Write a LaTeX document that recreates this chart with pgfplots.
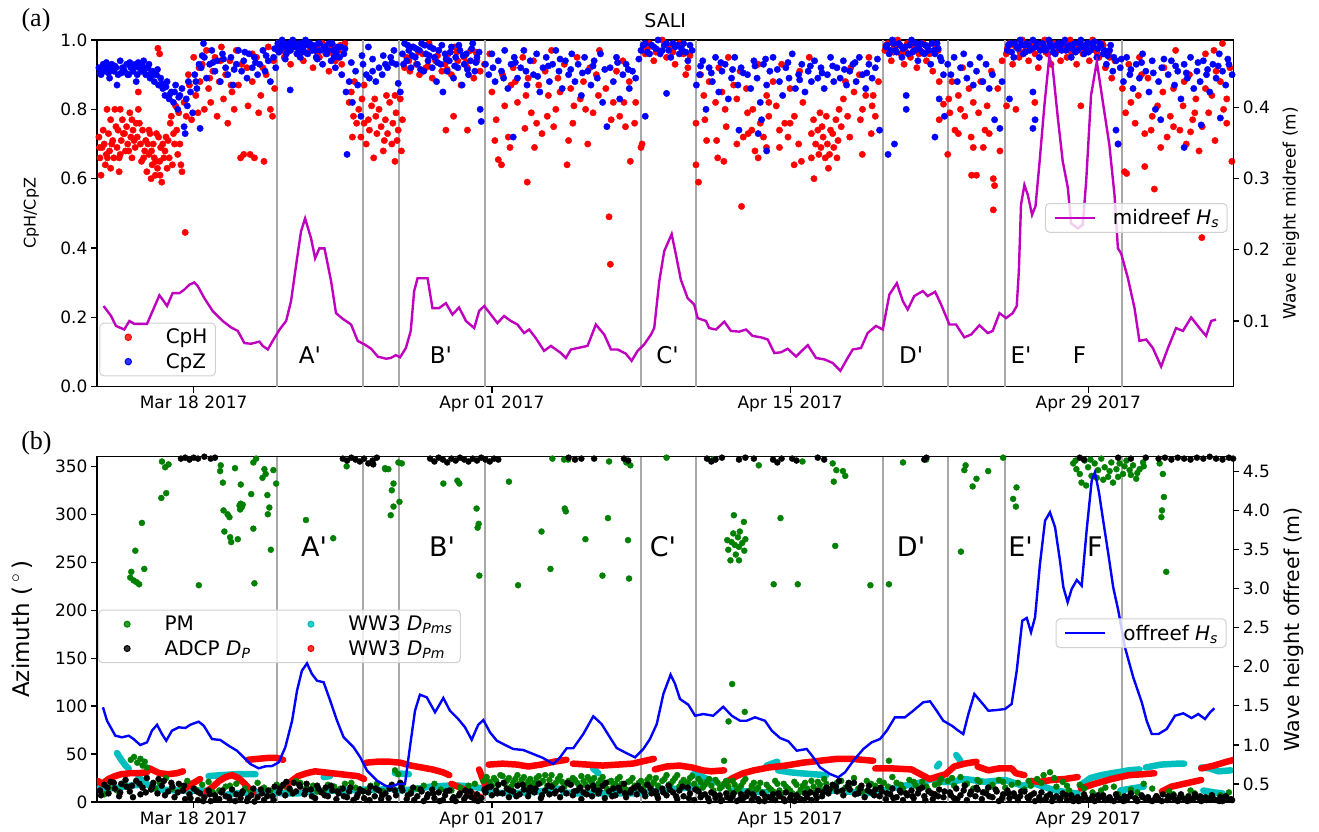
\documentclass[border=0pt]{standalone}
\usepackage{pgfplots}
\pgfplotsset{compat=1.18}
\usepackage{fontspec}
\setmainfont{DejaVu Sans}[Ligatures=TeXOff]
\newfontfamily\panelfont{Liberation Serif}
\definecolor{mplm}{RGB}{191,0,191}
\definecolor{mplg}{RGB}{0,128,0}
\definecolor{mplc}{RGB}{0,191,191}
\definecolor{vgray}{RGB}{168,168,168}
\pgfplotsset{
  base/.style={
    scale only axis, width=1136.3pt,
    xmin=-4.54, xmax=48.81,
    tick label style={font=\fontsize{17}{20}\selectfont},
    /pgf/number format/assume math mode=true,
    tick align=outside,
    major tick length=6pt,
    tick style={black,line width=1.2pt},
    axis line style={line width=1.2pt},
    legend cell align=left,
    legend image code/.code={\path (0pt,0pt) (40pt,0pt); \draw[mark repeat=2,mark phase=2,##1] plot coordinates {(0pt,0pt) (20pt,0pt) (40pt,0pt)};},
    legend style={draw=black!18, line width=1pt, rounded corners=4pt, fill=white, fill opacity=0.8, text opacity=1, draw opacity=1,
      font=\fontsize{20}{24}\selectfont, inner xsep=8pt, inner ysep=5pt, row sep=6pt,
      nodes={inner xsep=0pt, inner ysep=1pt},
      /tikz/every odd column/.append style={column sep=17pt},
      /tikz/every even column/.append style={column sep=40pt}},
  },
  dots/.style={only marks, mark=*, mark size=3.2pt},
}
\begin{document}
\begin{tikzpicture}
\path[use as bounding box] (0pt,0pt) rectangle (1319pt,-832pt);
\node[font=\panelfont\fontsize{26}{30}\selectfont] at (36pt,-20pt) {(a)};
\node[font=\panelfont\fontsize{26}{30}\selectfont] at (36.5pt,-443pt) {(b)};

% ---------------- TOP PANEL ----------------
\begin{axis}[base, at={(97pt,-386.7pt)}, anchor=south west, height=346.7pt,
  ymin=0, ymax=1, tick pos=left,
  xtick={0,14,28,42}, xticklabels={Mar 18 2017,Apr 01 2017,Apr 15 2017,Apr 29 2017},
  ytick={0,0.2,0.4,0.6,0.8,1.0},
  yticklabel style={/pgf/number format/.cd,fixed,fixed zerofill,precision=1},
  ylabel={CpH/CpZ},
  ylabel style={font=\fontsize{16}{19}\selectfont, at={(axis description cs:-0.0577,0.5)}, anchor=center},
  title={SALI}, title style={font=\fontsize{19}{22}\selectfont, yshift=3pt},
  legend style={at={(axis description cs:0.002,0.03)}, anchor=south west},
]
\addplot[vgray, line width=2pt, forget plot, unbounded coords=jump] table[row sep=\\]{
3.91 0\\ 3.91 1\\ nan nan\\ 7.93 0\\ 7.93 1\\ nan nan\\ 9.65 0\\ 9.65 1\\ nan nan\\ 13.68 0\\ 13.68 1\\ nan nan\\
20.99 0\\ 20.99 1\\ nan nan\\ 23.58 0\\ 23.58 1\\ nan nan\\ 32.38 0\\ 32.38 1\\ nan nan\\ 35.43 0\\ 35.43 1\\ nan nan\\
38.09 0\\ 38.09 1\\ nan nan\\ 43.57 0\\ 43.57 1\\};
% CpH
\addplot[dots, red] table[row sep=\\]{
-4.45 0.72\\ -4.4 0.66\\ -4.35 0.61\\ -4.3 0.69\\ -4.2 0.70\\ -4.15 0.64\\ -4.1 0.67\\ -4.0 0.73\\ -3.95 0.68\\ -3.9 0.77\\
-3.8 0.71\\ -3.75 0.66\\ -3.7 0.80\\ -3.6 0.69\\ -3.55 0.74\\ -3.5 0.66\\ -3.4 0.71\\ -3.35 0.77\\ -3.3 0.73\\ -3.2 0.68\\
-3.15 0.75\\ -3.1 0.70\\ -3.0 0.79\\ -2.95 0.72\\ -2.9 0.66\\ -2.85 0.74\\ -2.75 0.69\\ -2.7 0.76\\ -2.65 0.72\\ -2.6 0.80\\
-2.5 0.70\\ -2.45 0.65\\ -2.4 0.74\\ -2.3 0.68\\ -2.25 0.71\\ -2.2 0.62\\ -2.1 0.67\\ -2.05 0.73\\ -2.0 0.60\\ -1.95 0.64\\
-1.9 0.70\\ -1.85 0.66\\ -1.8 0.61\\ -1.75 0.73\\ -1.7 0.63\\ -1.6 0.65\\ -1.55 0.69\\ -1.5 0.59\\ -1.45 0.70\\ -1.4 0.66\\
-1.3 0.72\\ -1.25 0.63\\ -1.2 0.71\\ -1.1 0.76\\ -1.05 0.78\\ -1.0 0.64\\ -0.9 0.70\\ -0.85 0.81\\ -0.8 0.74\\ -0.75 0.67\\
-0.7 0.79\\ -0.6 0.64\\ -0.55 0.62\\ -1.68 0.976\\ -1.6 0.96\\ -2.6 0.85\\ -3.45 0.80\\ -4.07 0.80\\ -0.4 0.445\\
-4.42 0.69\\ -4.25 0.74\\ -4.05 0.66\\ -3.85 0.70\\ -3.65 0.75\\ -3.45 0.67\\ -3.25 0.73\\ -3.05 0.68\\ -2.8 0.71\\ -2.55 0.76\\
-2.35 0.66\\ -2.15 0.70\\ -1.98 0.68\\ -1.78 0.65\\ -1.58 0.61\\ -1.35 0.68\\ -1.15 0.66\\ -0.95 0.73\\ -0.65 0.70\\ -3.9 0.63\\
-3.5 0.62\\ -2.9 0.77\\ -2.1 0.74\\ -1.65 0.72\\
-0.45 0.82\\ -0.35 0.78\\ -0.25 0.90\\ -0.2 0.87\\ -0.1 0.77\\ 0.0 0.95\\ 0.1 0.84\\ 0.2 0.79\\ 0.3 0.88\\ 0.4 0.93\\
0.5 0.80\\ 0.6 0.97\\ 0.7 0.86\\ 0.8 0.82\\ 0.9 0.91\\ 1.0 0.95\\ 1.1 0.78\\ 1.2 0.88\\ 1.3 0.98\\ 1.4 0.83\\
1.5 0.90\\ 1.6 0.76\\ 1.7 0.94\\ 1.8 0.85\\ 1.9 0.80\\ 2.0 0.97\\ 2.1 0.87\\ 2.2 0.66\\ 2.35 0.67\\ 2.5 0.92\\
2.55 0.81\\ 2.65 0.67\\ 2.75 0.88\\ 2.85 0.66\\ 2.95 0.95\\ 3.05 0.79\\ 3.15 0.84\\ 3.3 0.65\\ 3.4 0.90\\ 3.5 0.98\\
3.6 0.80\\ 3.7 0.78\\ 3.8 0.86\\ 0.25 0.92\\ 0.75 0.89\\ 1.25 0.94\\ 1.75 0.87\\ 2.25 0.93\\ 2.75 0.96\\ 3.25 0.92\\ 3.75 0.94\\
3.95 0.97\\ 4.1 0.99\\ 4.25 0.95\\ 4.4 0.98\\ 4.55 0.93\\ 4.7 0.99\\ 4.85 0.96\\
5.0 0.98\\ 5.15 0.94\\ 5.3 0.99\\ 5.45 0.97\\ 5.6 0.92\\ 5.75 0.98\\ 5.9 0.95\\ 6.05 0.99\\ 6.2 0.96\\ 6.35 0.91\\
6.5 0.98\\ 6.65 0.94\\ 6.8 0.97\\ 6.95 0.93\\ 7.1 0.99\\ 3.98 0.985\\ 4.3 0.965\\ 4.65 0.985\\ 5.05 0.965\\ 5.4 0.985\\
5.8 0.965\\ 6.15 0.985\\ 6.55 0.96\\ 6.9 0.985\\
7.3 0.82\\ 7.4 0.85\\ 7.45 0.72\\ 7.55 0.88\\ 7.65 0.76\\
7.75 0.80\\ 7.85 0.72\\ 7.9 0.83\\ 8.0 0.87\\ 8.1 0.70\\ 8.2 0.77\\ 8.25 0.74\\ 8.35 0.81\\ 8.45 0.66\\ 8.55 0.78\\
8.6 0.73\\ 8.7 0.80\\ 8.8 0.75\\ 8.9 0.68\\ 9.0 0.77\\ 9.05 0.84\\ 9.1 0.73\\ 9.2 0.82\\ 9.3 0.70\\ 9.35 0.76\\
9.45 0.65\\ 9.5 0.79\\ 9.55 0.71\\ 9.6 0.74\\ 9.7 0.83\\ 9.75 0.68\\ 9.8 0.77\\ 9.45 0.84\\ 7.5 0.78\\ 8.0 0.76\\ 8.5 0.83\\ 8.95 0.71\\
9.9 0.92\\ 10.0 0.95\\ 10.15 0.91\\ 10.3 0.98\\ 10.45 0.93\\ 10.6 0.90\\ 10.75 0.96\\ 10.9 0.92\\ 11.05 0.99\\ 11.2 0.89\\
11.35 0.94\\ 11.5 0.97\\ 11.65 0.91\\ 11.8 0.93\\ 11.95 0.96\\ 12.1 0.90\\ 12.25 0.98\\ 12.4 0.94\\ 12.55 0.87\\ 12.7 0.95\\
12.85 0.92\\ 13.0 0.97\\ 13.15 0.89\\ 13.3 0.94\\ 13.45 0.91\\ 12.2 0.78\\ 11.84 0.74\\ 12.85 0.74\\
10.1 0.94\\ 10.55 0.965\\ 11.0 0.925\\ 11.45 0.955\\ 11.9 0.915\\ 12.35 0.965\\ 12.8 0.935\\ 13.25 0.965\\
13.65 0.93\\ 14.14 0.71\\ 13.9 0.96\\ 14.2 0.77\\ 14.3 0.655\\ 14.45 0.64\\ 14.5 0.90\\ 14.77 0.72\\ 14.85 0.69\\ 14.9 0.87\\
15.0 0.92\\ 15.2 0.82\\ 15.66 0.59\\ 15.45 0.95\\ 15.55 0.745\\ 15.7 0.89\\ 15.85 0.79\\ 15.95 0.94\\ 16.1 0.76\\ 16.2 0.87\\
16.35 0.73\\ 16.5 0.91\\ 16.65 0.84\\ 16.8 0.97\\ 16.9 0.75\\ 17.0 0.80\\ 17.1 0.89\\ 17.53 0.64\\ 17.4 0.93\\ 17.6 0.71\\
17.7 0.86\\ 17.85 0.81\\ 18.0 0.95\\ 18.15 0.83\\ 18.3 0.88\\ 18.5 0.70\\ 18.6 0.92\\ 18.75 0.79\\ 18.9 0.90\\ 19.05 0.97\\
19.5 0.49\\ 19.56 0.353\\ 19.35 0.86\\ 19.7 0.82\\ 19.85 0.91\\ 20.0 0.78\\ 20.15 0.94\\ 20.27 0.75\\ 20.45 0.88\\ 20.5 0.65\\
20.75 0.82\\ 21.0 0.69\\ 21.05 0.70\\
14.0 0.85\\ 14.6 0.81\\ 15.1 0.88\\ 15.6 0.84\\ 16.0 0.69\\ 16.6 0.78\\ 17.2 0.85\\ 17.8 0.76\\ 18.4 0.80\\ 19.0 0.84\\
19.6 0.77\\ 20.2 0.82\\ 20.7 0.76\\
21.2 0.96\\ 21.4 0.99\\ 21.6 0.94\\ 21.8 0.97\\ 22.0 1.0\\ 22.2 0.95\\ 22.4 0.98\\ 22.6 0.93\\ 22.8 0.99\\ 23.0 0.96\\
23.2 0.92\\ 23.1 0.90\\ 21.3 0.975\\ 21.7 0.965\\ 22.1 0.985\\ 22.5 0.965\\ 22.9 0.985\\ 23.3 0.955\\
23.58 0.76\\ 23.58 0.64\\ 23.7 0.59\\ 23.8 0.90\\ 23.95 0.84\\ 24.08 0.71\\ 24.2 0.88\\ 24.55 0.71\\
24.6 0.66\\ 24.65 0.92\\ 24.89 0.65\\ 24.8 0.85\\ 24.95 0.80\\ 25.1 0.95\\ 25.72 0.52\\ 25.35 0.87\\ 25.5 0.83\\ 25.65 0.91\\
25.8 0.72\\ 25.95 0.86\\ 26.03 0.73\\ 26.2 0.74\\ 26.25 0.80\\ 26.35 0.68\\ 26.5 0.93\\ 26.6 0.76\\ 26.75 0.72\\ 26.9 0.84\\
27.0 0.78\\ 26.89 0.69\\ 27.2 0.88\\ 27.35 0.81\\ 27.5 0.74\\ 27.6 0.93\\ 27.75 0.76\\ 27.9 0.72\\ 28.0 0.86\\ 28.19 0.64\\
28.2 0.78\\ 28.53 0.65\\ 28.45 0.91\\ 28.6 0.82\\ 29.12 0.60\\ 28.9 0.95\\ 29.0 0.73\\ 29.1 0.77\\ 29.2 0.70\\ 29.3 0.74\\
29.35 0.67\\ 29.45 0.69\\ 29.5 0.75\\ 29.55 0.72\\ 29.65 0.66\\ 29.7 0.78\\ 29.75 0.70\\ 29.85 0.67\\ 29.9 0.74\\ 30.0 0.73\\
30.05 0.69\\ 30.15 0.77\\ 30.25 0.71\\ 30.3 0.80\\ 30.4 0.75\\ 30.5 0.83\\ 30.6 0.88\\ 30.7 0.78\\ 30.85 0.92\\ 31.0 0.85\\
31.39 0.67\\ 31.25 0.90\\ 31.4 0.80\\ 31.55 0.84\\ 31.7 0.95\\ 31.85 0.81\\ 32.0 0.78\\ 32.15 0.88\\ 31.81 0.73\\
24.0 0.77\\ 24.5 0.82\\ 25.0 0.75\\ 25.5 0.70\\ 26.0 0.79\\ 26.5 0.66\\ 27.0 0.82\\ 27.5 0.69\\ 28.0 0.76\\ 28.4 0.70\\
29.0 0.66\\ 29.4 0.79\\ 29.8 0.63\\ 30.2 0.66\\ 30.8 0.72\\ 31.3 0.77\\ 31.9 0.84\\
32.45 0.97\\ 32.6 0.99\\ 32.75 0.94\\ 32.9 0.98\\ 33.05 1.0\\ 33.2 0.96\\ 33.35 0.93\\ 33.5 0.99\\ 33.65 0.95\\ 33.8 0.98\\
33.95 0.92\\ 34.1 0.97\\ 34.25 0.99\\ 34.4 0.94\\ 34.55 0.96\\ 34.7 0.91\\ 34.85 0.98\\ 35.0 0.88\\ 35.0 0.77\\ 35.2 0.815\\
32.5 0.985\\ 32.85 0.965\\ 33.15 0.985\\ 33.45 0.965\\ 33.75 0.985\\ 34.05 0.96\\ 34.35 0.985\\ 34.65 0.965\\ 34.95 0.97\\
35.4 0.67\\ 35.45 0.83\\ 35.5 0.79\\ 35.6 0.88\\ 35.74 0.74\\ 35.9 0.73\\ 35.9 0.84\\ 36.0 0.80\\ 36.1 0.92\\ 36.2 0.78\\
36.6 0.69\\ 36.4 0.86\\ 36.5 0.72\\ 36.6 0.82\\ 36.52 0.61\\ 36.75 0.61\\ 36.85 0.79\\ 36.95 0.88\\ 37.07 0.69\\ 37.15 0.74\\
37.25 0.81\\ 37.35 0.73\\ 37.45 0.91\\ 37.54 0.60\\ 37.6 0.58\\ 37.54 0.51\\ 37.75 0.86\\ 37.85 0.68\\ 37.95 0.94\\
38.15 0.96\\ 38.3 0.99\\ 38.45 0.93\\ 38.6 0.98\\ 38.75 0.95\\ 38.9 1.0\\ 39.05 0.97\\ 39.2 0.94\\ 39.35 0.99\\ 39.5 0.96\\
39.65 0.92\\ 39.8 0.98\\ 39.95 1.0\\ 40.1 0.96\\ 40.25 0.93\\ 40.4 0.99\\ 40.55 0.97\\ 40.7 0.94\\ 40.85 0.98\\ 41.0 0.95\\
41.15 1.0\\ 41.3 0.97\\ 41.45 0.93\\ 41.6 0.99\\ 41.75 0.96\\ 41.9 0.98\\ 42.05 0.94\\ 42.2 1.0\\ 42.35 0.97\\ 42.5 0.95\\
42.65 0.99\\ 42.8 0.92\\ 42.95 0.96\\ 43.1 0.89\\ 43.25 0.94\\ 38.16 0.81\\ 38.6 0.80\\ 39.49 0.82\\ 41.65 0.81\\ 43.4 0.70\\
43.8 0.615\\ 43.7 0.62\\
38.2 0.975\\ 38.5 0.985\\ 38.8 0.965\\ 39.1 0.985\\ 39.4 0.975\\ 39.7 0.985\\ 40.0 0.965\\ 40.3 0.985\\ 40.6 0.975\\ 40.9 0.985\\
41.2 0.965\\ 41.5 0.985\\ 41.8 0.97\\ 42.1 0.985\\ 42.4 0.965\\ 42.7 0.985\\ 43.0 0.95\\
43.6 0.86\\ 43.75 0.79\\ 43.9 0.93\\ 44.65 0.635\\ 44.2 0.76\\ 44.35 0.84\\ 45.1 0.57\\ 44.65 0.73\\ 44.8 0.89\\ 44.95 0.74\\
45.25 0.81\\ 45.4 0.69\\ 45.55 0.92\\ 45.7 0.72\\ 45.85 0.78\\ 46.0 0.86\\ 46.8 0.735\\ 46.3 0.74\\ 46.45 0.81\\ 46.6 0.70\\
46.75 0.90\\ 46.9 0.77\\ 47.05 0.83\\ 47.2 0.68\\ 47.35 0.75\\ 47.5 0.96\\ 47.65 0.79\\ 47.8 0.84\\ 47.95 0.71\\ 47.33 0.43\\
48.2 0.88\\ 48.35 0.80\\ 48.5 0.76\\ 48.65 0.92\\ 48.74 0.65\\ 48.85 0.83\\ 48.3 0.99\\ 47.9 0.97\\ 46.1 0.97\\ 44.4 0.95\\
44.0 0.82\\ 44.5 0.90\\ 45.0 0.78\\ 45.5 0.85\\ 46.0 0.75\\ 46.5 0.88\\ 47.0 0.79\\ 47.5 0.86\\ 48.0 0.91\\ 48.5 0.83\\};
\addlegendentry{CpH}
% CpZ
\addplot[dots, blue] table[row sep=\\]{
-4.45 0.92\\ -4.35 0.90\\ -4.25 0.93\\ -4.15 0.91\\ -4.05 0.92\\ -3.95 0.89\\ -3.85 0.93\\ -3.75 0.91\\ -3.65 0.92\\ -3.55 0.90\\
-3.45 0.94\\ -3.35 0.92\\ -3.25 0.91\\ -3.15 0.93\\ -3.05 0.90\\ -2.95 0.92\\ -2.85 0.91\\ -2.75 0.93\\ -2.65 0.90\\ -2.55 0.92\\
-2.45 0.91\\ -2.35 0.94\\ -2.25 0.90\\ -2.15 0.92\\ -2.05 0.89\\ -1.95 0.91\\ -1.85 0.88\\ -1.75 0.90\\ -1.65 0.87\\ -1.55 0.89\\
-4.4 0.905\\ -3.9 0.915\\ -3.4 0.905\\ -2.9 0.925\\ -2.4 0.925\\ -2.0 0.905\\ -3.0 0.935\\ -4.1 0.935\\ -3.6 0.87\\ -2.7 0.88\\
-4.3 0.915\\ -4.0 0.905\\ -3.7 0.925\\ -3.3 0.915\\ -3.1 0.9\\ -2.8 0.92\\ -2.6 0.935\\ -2.3 0.915\\ -2.1 0.93\\ -1.9 0.9\\
-1.7 0.915\\ -1.5 0.875\\ -1.3 0.865\\ -1.1 0.845\\ -0.9 0.85\\ -0.7 0.835\\ -0.3 0.81\\ 0.1 0.88\\
-1.45 0.86\\ -1.35 0.84\\ -1.25 0.88\\ -1.15 0.83\\ -1.05 0.85\\ -0.95 0.82\\ -0.85 0.87\\ -0.75 0.80\\ -0.65 0.84\\ -0.55 0.86\\
-0.45 0.75\\ -0.35 0.83\\ -0.25 0.88\\ -0.15 0.85\\ -0.05 0.79\\ 0.05 0.90\\ 0.15 0.86\\ 0.25 0.93\\ -0.4 0.73\\ 0.3 0.745\\
0.35 0.92\\ 0.5 0.95\\ 0.6 0.89\\ 0.75 0.93\\ 0.85 0.97\\ 1.0 0.91\\ 1.1 0.94\\ 1.25 0.88\\ 1.35 0.96\\ 1.5 0.92\\
1.6 0.90\\ 1.75 0.95\\ 1.85 0.87\\ 2.0 0.93\\ 2.1 0.97\\ 2.25 0.91\\ 2.35 0.94\\ 2.5 0.89\\ 2.6 0.96\\ 2.75 0.92\\
2.85 0.95\\ 3.0 0.90\\ 3.1 0.93\\ 3.25 0.97\\ 3.35 0.91\\ 3.5 0.94\\ 3.6 0.88\\ 3.75 0.95\\ 3.85 0.92\\ 0.46 0.99\\
0.4 0.955\\ 0.9 0.935\\ 1.4 0.945\\ 1.9 0.915\\ 2.4 0.965\\ 2.9 0.935\\ 3.4 0.955\\ 3.8 0.975\\
3.95 0.99\\ 4.05 0.97\\ 4.15 1.00\\ 4.25 0.98\\ 4.35 0.96\\ 4.45 0.99\\ 4.55 0.97\\ 4.65 1.00\\ 4.75 0.98\\ 4.85 0.96\\
4.95 0.99\\ 5.05 0.97\\ 5.15 0.98\\ 5.25 1.00\\ 5.35 0.96\\ 5.45 0.99\\ 5.55 0.97\\ 5.65 0.98\\ 5.75 0.95\\ 5.85 0.99\\
5.95 0.97\\ 6.05 0.93\\ 6.15 0.98\\ 6.25 0.96\\ 6.35 0.99\\ 6.45 0.94\\ 6.55 0.97\\ 6.65 0.92\\ 6.75 0.98\\ 6.85 0.95\\
6.95 0.90\\ 7.05 0.96\\ 4.53 0.856\\ 4.1 0.985\\ 4.6 0.985\\ 5.1 0.99\\ 5.6 0.985\\
4.0 0.965\\ 4.2 0.99\\ 4.4 0.975\\ 4.7 0.99\\ 4.9 0.975\\ 5.2 0.965\\ 5.4 0.985\\ 5.7 0.97\\ 5.9 0.99\\ 6.1 0.975\\
6.3 0.97\\ 6.5 0.99\\ 6.7 0.965\\ 6.9 0.98\\ 7.1 0.975\\ 4.3 0.945\\ 5.0 0.95\\ 5.8 0.945\\ 6.6 0.95\\
7.15 0.85\\ 7.3 0.88\\ 7.45 0.82\\ 7.6 0.91\\ 7.7 0.87\\ 7.85 0.78\\ 7.95 0.93\\ 8.1 0.90\\ 8.25 0.89\\ 8.4 0.91\\
8.55 0.88\\ 8.7 0.92\\ 8.85 0.90\\ 9.0 0.93\\ 8.2 0.98\\ 7.2 0.67\\ 7.4 0.935\\ 7.9 0.955\\ 8.4 0.945\\ 8.9 0.955\\ 9.3 0.935\\
9.1 0.92\\ 9.25 0.95\\ 9.4 0.97\\ 9.5 0.93\\ 9.6 0.875\\ 9.7 0.85\\
9.8 0.96\\ 9.9 0.99\\ 10.0 0.94\\ 10.1 0.97\\ 10.2 0.92\\ 10.3 0.98\\ 10.4 0.95\\ 10.5 0.93\\ 10.6 0.97\\ 10.7 0.99\\
10.8 0.91\\ 10.9 0.96\\ 11.0 0.94\\ 11.1 0.98\\ 11.2 0.92\\ 11.3 0.95\\ 11.4 0.88\\ 11.5 0.97\\ 11.6 0.93\\ 11.7 0.85\\
11.8 0.96\\ 11.9 0.91\\ 12.0 0.94\\ 12.1 0.98\\ 12.2 0.89\\ 12.3 0.95\\ 12.4 0.92\\ 12.5 0.97\\ 12.6 0.87\\ 12.7 0.93\\
12.8 0.96\\ 12.9 0.90\\ 13.0 0.94\\ 13.1 0.99\\ 13.2 0.91\\ 13.3 0.95\\ 13.45 0.80\\ 13.5 0.765\\
9.85 0.93\\ 10.05 0.985\\ 10.25 0.955\\ 10.45 0.975\\ 10.65 0.915\\ 10.85 0.985\\ 11.05 0.955\\ 11.25 0.975\\ 11.45 0.935\\ 11.65 0.985\\
11.85 0.945\\ 12.05 0.965\\ 12.25 0.925\\ 12.45 0.985\\ 12.65 0.955\\ 12.85 0.915\\ 13.05 0.975\\ 13.25 0.935\\ 13.4 0.965\\
13.7 0.93\\ 13.85 0.90\\ 14.0 0.96\\ 14.15 0.88\\ 14.3 0.94\\ 14.45 0.91\\ 14.6 0.97\\ 14.75 0.86\\ 14.9 0.93\\ 15.05 0.95\\
15.2 0.89\\ 15.35 0.92\\ 15.5 0.97\\ 15.65 0.87\\ 15.8 0.94\\ 15.95 0.90\\ 16.1 0.96\\ 16.25 0.85\\ 16.4 0.92\\ 16.55 0.95\\
16.7 0.88\\ 16.85 0.93\\ 17.0 0.97\\ 17.15 0.91\\ 17.3 0.86\\ 17.45 0.94\\ 17.6 0.90\\ 17.75 0.96\\ 17.9 0.88\\ 18.05 0.93\\
18.2 0.84\\ 18.35 0.95\\ 18.5 0.91\\ 18.65 0.87\\ 18.8 0.94\\ 18.95 0.89\\ 19.1 0.96\\ 19.2 0.82\\ 19.4 0.75\\ 19.55 0.92\\
19.7 0.88\\ 19.85 0.95\\ 20.0 0.83\\ 20.15 0.90\\ 20.3 0.93\\ 20.45 0.86\\ 20.6 0.91\\ 20.75 0.89\\ 21.2 0.78\\ 15.0 0.72\\
14.05 0.92\\ 14.55 0.89\\ 15.1 0.935\\ 15.6 0.91\\ 16.15 0.895\\ 16.65 0.925\\ 17.2 0.945\\ 17.7 0.915\\ 18.25 0.905\\ 18.75 0.925\\
19.3 0.915\\ 19.9 0.935\\ 20.4 0.915\\ 20.9 0.945\\
21.0 0.97\\ 21.2 0.99\\ 21.4 0.96\\ 21.6 0.98\\ 21.8 1.0\\ 22.0 0.97\\ 22.2 0.99\\ 22.4 0.95\\ 22.6 0.98\\ 22.8 0.96\\
23.0 0.99\\ 23.2 0.94\\ 23.4 0.97\\ 22.2 0.846\\ 21.5 0.985\\ 22.5 0.99\\
21.1 0.985\\ 21.3 0.965\\ 21.7 0.975\\ 21.9 0.96\\ 22.1 0.985\\ 22.3 0.97\\ 22.7 0.985\\ 22.9 0.975\\ 23.1 0.965\\ 23.3 0.985\\
23.6 0.87\\ 23.75 0.90\\ 23.9 0.94\\ 24.05 0.80\\ 24.2 0.92\\ 24.35 0.88\\ 24.5 0.95\\ 24.65 0.85\\ 24.8 0.91\\ 24.95 0.93\\
25.1 0.83\\ 25.25 0.89\\ 25.4 0.95\\ 25.55 0.87\\ 25.7 0.92\\ 25.6 0.74\\ 26.0 0.90\\ 26.15 0.86\\ 26.3 0.94\\ 26.45 0.89\\
26.6 0.82\\ 26.75 0.93\\ 26.9 0.87\\ 27.05 0.91\\ 27.2 0.95\\ 26.66 0.77\\ 27.5 0.88\\ 27.65 0.84\\ 27.8 0.92\\ 27.95 0.89\\
28.1 0.96\\ 28.25 0.86\\ 28.4 0.90\\ 28.55 0.93\\ 28.7 0.85\\ 28.85 0.91\\ 29.0 0.88\\ 29.15 0.94\\ 29.3 0.89\\ 29.45 0.92\\
29.6 0.86\\ 29.75 0.90\\ 29.9 0.95\\ 30.05 0.88\\ 30.2 0.92\\ 30.35 0.89\\ 30.5 0.94\\ 30.65 0.87\\ 30.8 0.91\\ 30.95 0.93\\
31.1 0.88\\ 31.25 0.95\\ 31.4 0.90\\ 31.55 0.86\\ 31.7 0.93\\ 31.85 0.89\\ 32.0 0.92\\ 32.2 0.74\\ 26.9 0.68\\ 26.5 0.73\\
23.8 0.925\\ 24.3 0.905\\ 24.75 0.935\\ 25.3 0.915\\ 25.8 0.905\\ 26.35 0.925\\ 26.85 0.945\\ 27.4 0.915\\ 27.9 0.935\\ 28.45 0.885\\
28.95 0.925\\ 29.5 0.905\\ 30.0 0.925\\ 30.55 0.915\\ 31.05 0.935\\ 31.6 0.905\\ 32.1 0.945\\
32.5 0.98\\ 32.65 0.96\\ 32.8 1.0\\ 32.95 0.97\\ 33.1 0.99\\ 33.25 0.95\\ 33.4 0.98\\ 33.55 0.96\\ 33.7 1.0\\ 33.85 0.97\\
34.0 0.94\\ 34.15 0.99\\ 34.3 0.96\\ 34.45 0.98\\ 34.6 0.93\\ 34.75 0.97\\ 34.9 0.99\\ 35.05 0.95\\ 35.2 0.90\\
33.45 0.80\\ 33.45 0.84\\ 32.6 0.67\\ 32.9 0.70\\ 34.8 0.72\\ 35.25 0.78\\ 35.0 0.83\\
32.55 0.985\\ 32.7 0.97\\ 32.85 0.99\\ 33.0 0.965\\ 33.15 0.985\\ 33.3 0.975\\ 33.6 0.985\\ 33.75 0.965\\ 33.9 0.99\\ 34.05 0.975\\
34.2 0.965\\ 34.35 0.985\\ 34.5 0.97\\ 34.65 0.99\\ 34.8 0.96\\ 34.95 0.975\\ 35.1 0.94\\
35.4 0.93\\ 35.55 0.90\\ 35.7 0.95\\ 35.85 0.88\\ 36.0 0.92\\ 36.15 0.96\\ 36.3 0.89\\ 36.45 0.93\\ 36.6 0.87\\ 36.75 0.91\\
36.9 0.95\\ 37.05 0.88\\ 37.2 0.93\\ 37.35 0.86\\ 37.5 0.90\\ 37.6 0.77\\ 37.85 0.745\\ 37.95 0.88\\ 38.3 0.83\\
38.2 0.97\\ 38.35 0.99\\ 38.5 0.95\\ 38.65 0.98\\ 38.8 1.0\\ 38.95 0.96\\ 39.1 0.99\\ 39.25 0.97\\ 39.4 1.0\\ 39.55 0.98\\
39.7 0.95\\ 39.85 0.99\\ 40.0 0.97\\ 40.15 1.0\\ 40.3 0.98\\ 40.45 0.96\\ 40.6 0.99\\ 40.75 0.97\\ 40.9 1.0\\ 41.05 0.98\\
41.2 0.95\\ 41.35 0.99\\ 41.5 0.97\\ 41.65 1.0\\ 41.8 0.96\\ 41.95 0.99\\ 42.1 0.97\\ 42.25 0.98\\ 42.4 0.95\\ 42.55 0.99\\
42.7 0.96\\ 42.85 0.93\\ 43.0 0.97\\ 43.15 0.91\\ 43.3 0.94\\ 39.4 0.85\\ 39.5 0.77\\ 39.4 0.745\\ 43.4 0.70\\ 43.3 0.74\\
39.0 0.985\\ 40.5 0.985\\ 41.9 0.975\\ 42.3 0.995\\
38.25 0.985\\ 38.4 0.965\\ 38.55 0.99\\ 38.7 0.975\\ 38.85 0.985\\ 39.05 0.965\\ 39.2 0.985\\ 39.35 0.975\\ 39.6 0.99\\ 39.75 0.97\\
39.9 0.985\\ 40.05 0.975\\ 40.2 0.99\\ 40.35 0.965\\ 40.65 0.975\\ 40.8 0.99\\ 40.95 0.97\\ 41.1 0.985\\ 41.25 0.975\\ 41.4 0.965\\
41.55 0.99\\ 41.7 0.98\\ 41.85 0.985\\ 42.0 0.965\\ 42.15 0.99\\ 42.45 0.975\\ 42.6 0.985\\ 42.75 0.97\\ 42.9 0.955\\ 43.05 0.985\\ 43.2 0.95\\
43.5 0.92\\ 43.65 0.88\\ 43.8 0.95\\ 43.95 0.90\\ 44.1 0.86\\ 44.25 0.93\\ 44.4 0.89\\ 44.55 0.96\\ 44.7 0.91\\ 44.85 0.85\\
45.0 0.94\\ 45.15 0.80\\ 45.3 0.88\\ 45.45 0.92\\ 45.4 0.77\\ 45.75 0.90\\ 45.9 0.94\\ 46.05 0.87\\ 46.2 0.91\\ 46.35 0.83\\
46.5 0.93\\ 46.65 0.89\\ 46.8 0.95\\ 46.95 0.86\\ 47.1 0.91\\ 47.25 0.88\\ 47.4 0.94\\ 47.55 0.90\\ 47.7 0.85\\ 47.85 0.93\\
48.0 0.89\\ 48.15 0.96\\ 48.3 0.91\\ 48.45 0.87\\ 48.6 0.93\\ 48.75 0.90\\ 46.5 0.69\\ 47.3 0.755\\ 48.2 0.775\\
43.55 0.945\\ 44.0 0.915\\ 44.5 0.935\\ 45.05 0.905\\ 45.55 0.945\\ 46.1 0.925\\ 46.6 0.905\\ 47.15 0.935\\ 47.6 0.915\\ 48.1 0.925\\ 48.55 0.945\\};
\addlegendentry{CpZ}
\node[font=\fontsize{23}{28}\selectfont] at (axis cs:5.46,0.091) {A'};
\node[font=\fontsize{23}{28}\selectfont] at (axis cs:11.61,0.091) {B'};
\node[font=\fontsize{23}{28}\selectfont] at (axis cs:22.25,0.091) {C'};
\node[font=\fontsize{23}{28}\selectfont] at (axis cs:33.68,0.091) {D'};
\node[font=\fontsize{23}{28}\selectfont] at (axis cs:38.84,0.091) {E'};
\node[font=\fontsize{23}{28}\selectfont] at (axis cs:41.59,0.091) {F};
\end{axis}

\begin{axis}[base, at={(97pt,-386.7pt)}, anchor=south west, height=346.7pt,
  ymin=0.0077, ymax=0.4945,
  axis y line*=right, axis x line=none,
  ytick={0.1,0.2,0.3,0.4},
  yticklabel style={/pgf/number format/.cd,fixed,fixed zerofill,precision=1},
  ylabel={Wave height midreef (m)},
  ylabel style={font=\fontsize{17}{20}\selectfont, at={(axis description cs:1.0506,0.5)}, anchor=center},
  legend style={at={(axis description cs:0.995,0.444)}, anchor=south east},
]
\addplot[mplm, line width=2.4pt] table[row sep=\\]{
-4.23 0.121\\ -3.88 0.107\\ -3.65 0.093\\ -3.26 0.088\\ -3.02 0.100\\ -2.79 0.096\\ -2.48 0.096\\ -2.19 0.096\\ -1.93 0.114\\ -1.61 0.136\\
-1.46 0.130\\ -1.25 0.121\\ -0.99 0.139\\ -0.67 0.139\\ -0.44 0.144\\ -0.20 0.151\\ 0.03 0.154\\ 0.19 0.149\\ 0.50 0.132\\ 0.89 0.114\\
1.36 0.100\\ 1.75 0.091\\ 2.07 0.086\\ 2.38 0.069\\ 2.69 0.068\\ 3.09 0.071\\ 3.24 0.065\\ 3.48 0.060\\ 3.71 0.072\\ 4.03 0.088\\
4.34 0.100\\ 4.57 0.128\\ 4.81 0.179\\ 5.04 0.226\\ 5.23 0.244\\ 5.51 0.216\\ 5.70 0.188\\ 5.90 0.202\\ 6.14 0.202\\ 6.45 0.156\\
6.68 0.111\\ 7.00 0.103\\ 7.39 0.095\\ 7.70 0.072\\ 8.02 0.067\\ 8.33 0.061\\ 8.64 0.050\\ 9.03 0.047\\ 9.25 0.048\\ 9.49 0.052\\
9.69 0.049\\ 9.96 0.062\\ 10.19 0.086\\ 10.35 0.142\\ 10.51 0.160\\ 10.98 0.160\\ 11.21 0.118\\ 11.52 0.118\\ 11.84 0.125\\ 12.15 0.109\\
12.46 0.119\\ 12.78 0.100\\ 13.17 0.090\\ 13.40 0.114\\ 13.64 0.121\\ 13.95 0.109\\ 14.26 0.097\\ 14.57 0.107\\ 14.89 0.100\\ 15.20 0.095\\
15.51 0.083\\ 15.75 0.088\\ 16.06 0.076\\ 16.45 0.058\\ 16.77 0.065\\ 17.24 0.055\\ 17.47 0.048\\ 17.71 0.060\\ 18.18 0.063\\ 18.49 0.065\\
18.88 0.095\\ 19.27 0.081\\ 19.59 0.060\\ 19.90 0.060\\ 20.29 0.054\\ 20.56 0.044\\ 20.84 0.058\\ 21.15 0.067\\ 21.47 0.081\\ 21.62 0.090\\
21.86 0.156\\ 22.09 0.198\\ 22.44 0.222\\ 22.64 0.193\\ 22.87 0.158\\ 23.19 0.132\\ 23.50 0.123\\ 23.66 0.104\\ 24.05 0.100\\ 24.20 0.090\\
24.52 0.088\\ 24.91 0.099\\ 25.22 0.086\\ 25.61 0.085\\ 25.93 0.088\\ 26.24 0.079\\ 26.63 0.077\\ 26.95 0.074\\ 27.26 0.055\\ 27.57 0.056\\
27.89 0.061\\ 28.28 0.050\\ 28.51 0.057\\ 28.83 0.066\\ 29.22 0.048\\ 29.61 0.046\\ 30.00 0.041\\ 30.36 0.030\\ 30.70 0.048\\ 30.94 0.060\\
31.33 0.062\\ 31.64 0.083\\ 32.03 0.093\\ 32.35 0.088\\ 32.66 0.137\\ 33.01 0.153\\ 33.29 0.128\\ 33.52 0.116\\ 33.83 0.135\\ 34.23 0.142\\
34.46 0.135\\ 34.81 0.141\\ 35.09 0.123\\ 35.48 0.095\\ 35.79 0.095\\ 36.18 0.077\\ 36.50 0.081\\ 36.89 0.094\\ 37.28 0.083\\ 37.51 0.086\\
37.83 0.111\\ 38.14 0.104\\ 38.45 0.111\\ 38.64 0.121\\ 38.74 0.170\\ 38.84 0.263\\ 39.00 0.291\\ 39.16 0.277\\ 39.36 0.249\\ 39.52 0.261\\
39.70 0.319\\ 39.94 0.403\\ 40.17 0.471\\ 40.33 0.455\\ 40.57 0.385\\ 40.80 0.324\\ 41.04 0.287\\ 41.19 0.237\\ 41.51 0.230\\ 41.74 0.235\\
41.90 0.296\\ 42.13 0.417\\ 42.40 0.464\\ 42.68 0.408\\ 42.99 0.347\\ 43.23 0.277\\ 43.39 0.202\\ 43.54 0.195\\ 43.86 0.160\\ 44.17 0.118\\
44.40 0.072\\ 44.72 0.074\\ 45.03 0.062\\ 45.42 0.036\\ 45.74 0.062\\ 46.12 0.090\\ 46.44 0.086\\ 46.83 0.105\\ 47.22 0.090\\ 47.53 0.079\\
47.77 0.100\\ 48.00 0.102\\};
\addlegendentry{midreef \textit{H}\textsubscript{\textit{s}}}
\end{axis}

% ---------------- BOTTOM PANEL ----------------
\begin{axis}[base, at={(97pt,-802pt)}, anchor=south west, height=345.3pt,
  ymin=0, ymax=360, tick pos=left,
  xtick={0,14,28,42}, xticklabels={Mar 18 2017,Apr 01 2017,Apr 15 2017,Apr 29 2017},
  ytick={0,50,100,150,200,250,300,350},
  ylabel={Azimuth (\,$^{\circ}$\,)},
  ylabel style={font=\fontsize{23}{27}\selectfont, at={(axis description cs:-0.066,0.5)}, anchor=center},
  legend columns=2,
  legend style={at={(axis description cs:0.001,0.402)}, anchor=south west},
]
\addplot[vgray, line width=2pt, forget plot, unbounded coords=jump] table[row sep=\\]{
3.91 0\\ 3.91 360\\ nan nan\\ 7.93 0\\ 7.93 360\\ nan nan\\ 9.65 0\\ 9.65 360\\ nan nan\\ 13.68 0\\ 13.68 360\\ nan nan\\
20.99 0\\ 20.99 360\\ nan nan\\ 23.58 0\\ 23.58 360\\ nan nan\\ 32.38 0\\ 32.38 360\\ nan nan\\ 35.43 0\\ 35.43 360\\ nan nan\\
38.09 0\\ 38.09 360\\ nan nan\\ 43.57 0\\ 43.57 360\\};
\addlegendimage{dots, mark size=3pt, mplg}
\addlegendentry{PM}
\addlegendimage{dots, mark size=3pt, mplc}
\addlegendentry{WW3 \textit{D}\textsubscript{\textit{Pms}}}
\addlegendimage{dots, mark size=3pt, black}
\addlegendentry{ADCP \textit{D}\textsubscript{\textit{P}}}
\addlegendimage{dots, mark size=3pt, red}
\addlegendentry{WW3 \textit{D}\textsubscript{\textit{Pm}}}
% PM
\addplot[dots, mark size=3pt, mplg, forget plot] table[row sep=\\]{
-1.49 355\\ -1.34 349\\ -1.18 352\\ -1.52 317\\ -1.29 322\\ -2.43 291\\ -2.74 262\\ -2.32 243\\ -2.93 240\\ -2.98 234\\
-2.82 231\\ -2.67 229\\ -2.56 227\\ 0.24 226\\ 1.27 351\\ 1.37 333\\ 1.24 345\\ 1.94 348\\ 2.21 331\\ 1.40 304\\
1.59 300\\ 1.68 297\\ 1.44 282\\ 1.71 276\\ 1.76 271\\ 2.07 274\\ 2.15 309\\ 2.2 311\\ 2.25 307\\ 2.3 310\\
2.18 305\\ 2.7 321\\ 2.8 354\\ 2.93 358\\ 3.23 338\\ 3.38 342\\ 3.32 347\\ 3.74 346\\ 3.46 320\\ 3.55 307\\
3.48 300\\ 2.8 285\\ 3.62 263\\ 2.85 228\\ 3.87 332\\ 5.27 294\\ 6.55 275\\ 7.18 350\\ 9.0 347\\
8.98 348\\ 9.14 347\\ 9.38 332\\ 9.3 325\\ 9.38 308\\ 9.25 299\\ 9.66 313\\ 9.77 353\\ 9.61 354\\ 11.72 332\\
12.38 335\\ 12.47 332\\ 13.28 306\\ 13.38 290\\ 13.33 286\\ 13.41 236\\ 14.8 334\\ 15.23 226\\ 16.33 282\\ 16.75 243\\
16.84 358\\ 17.39 357\\ 17.58 357\\ 17.42 306\\ 17.47 303\\ 18.39 274\\ 19.19 236\\ 19.45 296\\ 20.39 273\\ 20.44 233\\
20.31 354\\ 20.5 351\\ 19.5 355\\ 22.2 359\\ 24.39 357\\ 26.53 351\\ 28.58 355\\ 30.0 353\\ 30.17 346\\ 30.48 345\\
30.59 340\\ 30.05 334\\ 25.36 299\\ 25.83 292\\ 25.33 280\\ 25.64 282\\ 25.05 273\\ 25.1 263\\ 25.25 271\\ 25.4 268\\
25.45 258\\ 25.55 276\\ 25.6 266\\ 25.75 270\\ 25.85 262\\ 25.9 274\\ 25.2 252\\ 25.6 252\\ 27.55 296\\ 30.12 267\\
27.23 227\\ 28.36 227\\ 31.77 226\\ 32.64 227\\ 33.3 354\\ 34.39 357\\ 25.28 123\\ 25.87 94\\ 25.11 84\\ 24.9 43\\
32.64 43\\ 36.24 351\\ 36.18 346\\ 36.75 337\\ 36.57 329\\ 37.3 345\\ 36.02 261\\ 38.63 328\\ 38.47 316\\ 38.6 308\\
38.0 359\\ 41.29 353\\ 41.44 347\\ 41.6 342\\ 41.68 333\\ 41.83 356\\ 41.99 349\\ 42.15 340\\ 42.3 353\\ 42.46 346\\
42.61 358\\ 42.77 349\\ 42.93 339\\ 43.08 354\\ 43.16 333\\ 43.32 347\\ 43.47 353\\ 43.63 342\\ 43.79 356\\ 43.94 346\\
44.1 351\\ 44.25 337\\ 44.41 347\\ 44.57 354\\ 41.4 356\\ 41.9 330\\ 42.1 357\\ 42.4 338\\ 42.7 336\\ 43.0 345\\
43.4 339\\ 43.7 350\\ 44.0 341\\ 44.3 343\\ 44.6 350\\ 45.5 342\\ 45.55 318\\ 45.46 304\\ 45.43 297\\ 45.66 240\\ 45.35 353\\
-2.95 44\\ -2.8 47\\ -2.65 41\\ -2.5 45\\ -2.4 38\\ -2.3 42\\ -2.2 36\\
-4.2 8\\ -3.6 12\\ -1.6 20\\ -1.0 14\\ -0.3 22\\ 0.4 18\\ 0.9 10\\ 1.5 16\\ 1.7 17\\ 2.4 14\\ 3.0 20\\ 3.6 12\\
4.2 17\\ 4.8 22\\ 5.3 15\\ 5.8 11\\ 6.3 18\\ 6.9 14\\ 7.4 20\\ 7.8 13\\ 8.3 17\\ 8.9 11\\ 9.45 33\\ 9.6 29\\
10.5 14\\ 11.3 19\\ 12.1 12\\ 12.9 17\\ 13.6 22\\ 13.9 21\\ 14.1 25\\ 14.3 18\\ 14.5 27\\ 14.7 22\\ 14.9 16\\ 15.1 24\\
15.3 19\\ 15.5 26\\ 15.7 21\\ 15.9 17\\ 16.1 25\\ 16.3 20\\ 16.5 28\\ 16.7 23\\ 16.9 18\\ 17.1 24\\ 17.3 21\\ 16.8 28\\
17.7 19\\ 17.9 23\\ 18.1 17\\ 18.3 22\\ 18.5 26\\ 18.7 20\\ 18.9 15\\ 19.1 23\\ 19.3 18\\ 19.5 21\\ 19.7 16\\ 19.9 24\\
20.1 19\\ 20.3 13\\ 20.5 22\\ 20.7 17\\ 20.9 20\\ 21.1 14\\ 21.3 23\\ 21.5 18\\ 21.7 25\\
22.0 22\\ 22.2 28\\ 22.4 19\\ 22.6 25\\ 22.8 16\\ 23.0 23\\ 23.2 20\\ 23.4 27\\ 23.6 14\\ 23.8 21\\ 24.0 18\\ 24.2 24\\
24.4 12\\ 24.6 20\\ 24.8 16\\ 25.0 22\\ 25.2 10\\ 25.4 18\\ 25.6 14\\ 25.8 21\\ 26.0 9\\ 26.2 17\\ 26.4 13\\ 26.6 20\\
26.8 7\\ 27.0 15\\ 27.2 11\\ 27.4 19\\ 27.6 8\\ 27.8 16\\ 28.0 12\\ 28.2 21\\ 28.4 9\\ 28.6 17\\ 28.8 14\\ 29.0 22\\
29.2 10\\ 29.4 18\\ 29.6 24\\ 29.8 13\\ 30.2 20\\ 30.6 15\\ 31.0 25\\ 31.4 11\\ 31.8 19\\ 32.2 22\\ 32.6 16\\ 32.8 26\\
33.0 20\\ 33.3 14\\ 33.6 23\\ 33.9 17\\ 34.2 21\\ 34.5 12\\ 34.8 18\\ 35.1 24\\
35.4 22\\ 35.7 17\\ 36.0 26\\ 36.3 19\\ 36.6 14\\ 36.9 21\\ 37.2 11\\ 37.5 18\\ 37.8 23\\ 38.1 15\\ 38.7 20\\ 39.0 13\\
39.3 17\\ 39.6 24\\ 39.9 28\\ 40.2 31\\ 40.5 16\\ 40.8 21\\ 41.1 12\\ 41.6 18\\ 42.2 10\\ 42.8 15\\ 43.4 8\\ 44.0 13\\
44.6 19\\ 45.2 6\\ 45.8 11\\ 46.4 5\\ 47.0 9\\ 47.6 4\\ 48.2 7\\
-4.0 15\\ -3.3 18\\ -1.8 14\\ -1.3 25\\ -0.6 17\\ 0.1 13\\ 0.7 21\\ 1.2 12\\ 2.0 19\\ 2.7 11\\ 3.3 15\\ 3.9 18\\
4.5 13\\ 5.0 20\\ 5.6 17\\ 6.1 12\\ 6.6 16\\ 7.1 19\\ 7.6 15\\ 8.1 12\\ 8.6 19\\ 9.2 15\\ 9.8 18\\ 10.2 11\\
10.8 17\\ 11.6 13\\ 12.5 15\\ 13.2 19\\ 13.75 26\\ 14.0 17\\ 14.2 22\\ 14.4 28\\ 14.6 19\\ 14.8 25\\ 15.0 20\\ 15.2 28\\
15.4 23\\ 15.6 16\\ 15.8 24\\ 16.0 20\\ 16.2 27\\ 16.4 22\\ 16.6 17\\ 17.0 20\\ 17.2 27\\ 17.4 16\\ 17.6 22\\ 17.8 25\\
18.0 20\\ 18.2 27\\ 18.4 18\\ 18.6 23\\ 18.8 25\\ 19.0 19\\ 19.2 26\\ 19.4 14\\ 19.6 22\\ 19.8 19\\ 20.0 26\\ 20.2 16\\
20.4 21\\ 20.6 25\\ 20.8 15\\ 21.0 22\\ 21.2 18\\ 21.4 26\\ 21.6 21\\ 21.8 17\\ 22.1 24\\ 22.3 18\\ 22.5 22\\ 22.7 28\\
22.9 20\\ 23.1 17\\ 23.3 25\\ 23.5 19\\ 23.7 24\\ 23.9 15\\ 24.1 21\\ 24.3 17\\ 24.5 23\\ 24.7 14\\ 24.9 19\\ 25.1 16\\
25.3 22\\ 25.5 12\\ 25.7 17\\ 25.9 24\\ 26.1 12\\ 26.3 20\\ 26.5 15\\ 26.7 10\\ 26.9 18\\ 27.1 13\\ 27.3 22\\ 27.5 12\\
27.7 19\\ 27.9 14\\ 28.1 9\\ 28.3 18\\ 28.5 13\\ 28.7 20\\ 28.9 11\\ 29.1 16\\ 29.3 21\\ 29.5 12\\ 29.7 19\\ 30.0 15\\
30.4 22\\ 30.8 18\\ 31.2 14\\ 31.6 22\\ 32.0 17\\ 32.4 20\\ 33.2 18\\ 33.8 21\\ 34.4 16\\ 35.0 20\\ 35.6 25\\ 36.2 18\\
36.8 23\\ 37.4 16\\ 38.0 21\\ 38.4 18\\ 39.2 22\\ 39.8 20\\ 40.4 25\\ 41.0 17\\ 41.8 14\\ 42.6 12\\ 43.2 16\\ 44.3 10\\
45.0 14\\ 46.0 8\\ 46.8 12\\ 47.8 7\\ 48.6 10\\};
% ADCP
\addplot[dots, mark size=3pt, black, forget plot] table[row sep=\\]{
-4.4 12\\ -4.2 18\\ -4.0 9\\ -3.9 21\\ -3.7 14\\ -3.5 6\\ -3.4 19\\ -3.2 23\\ -3.0 11\\ -2.9 17\\ -2.7 22\\ -2.5 8\\
-2.4 15\\ -2.2 25\\ -2.0 13\\ -1.9 20\\ -1.7 9\\ -1.5 17\\ -1.4 22\\ -1.2 11\\ -1.0 16\\ -0.9 5\\ -0.7 19\\ -0.5 12\\
-0.4 3\\ -0.2 8\\ 0.0 14\\ 0.2 2\\ 0.3 9\\ 0.5 5\\ 0.7 12\\ 0.8 1\\ 1.0 7\\ 1.2 3\\ 1.3 10\\ 1.5 6\\
1.7 2\\ 1.8 13\\ 2.0 8\\ 2.2 4\\ 2.3 11\\ 2.5 1\\ 2.7 7\\ 2.8 14\\ 3.0 5\\ 3.2 9\\ 3.3 2\\ 3.5 12\\
3.7 6\\ 3.8 16\\ 4.0 10\\ 4.2 18\\ 4.3 7\\ 4.5 14\\ 4.7 20\\ 4.8 11\\ 5.0 16\\ 5.2 8\\ 5.3 19\\ 5.5 13\\
5.7 4\\ 5.8 17\\ 6.0 10\\ 6.2 15\\ 6.3 6\\ 6.5 12\\ 6.7 3\\ 6.8 9\\ 7.0 14\\ 7.2 5\\ 7.3 11\\ 7.5 2\\
7.7 8\\ 7.8 13\\ 8.0 4\\ 8.2 10\\ 8.3 16\\ 8.5 6\\ 8.7 12\\ 8.8 3\\ 9.0 9\\ 9.2 14\\ 9.3 18\\ 9.5 7\\
9.7 20\\ 9.8 12\\ 10.0 3\\ 10.2 9\\ 10.3 15\\ 10.5 6\\ 10.7 11\\ 10.8 1\\ 11.0 8\\ 11.2 13\\ 11.3 4\\ 11.5 10\\
11.7 2\\ 11.8 7\\ 12.0 12\\ 12.2 5\\ 12.3 1\\ 12.5 9\\ 12.7 3\\ 12.8 6\\ 13.0 11\\ 13.2 2\\ 13.3 8\\ 13.5 4\\
13.7 10\\ 13.8 15\\ 14.0 7\\ 14.2 12\\ 14.3 18\\ 14.5 9\\ 14.7 14\\ 14.8 5\\ 15.0 11\\ 15.2 17\\ 15.3 8\\ 15.5 13\\
15.7 6\\ 15.8 15\\ 16.0 10\\ 16.2 19\\ 16.3 4\\ 16.5 12\\ 16.7 8\\ 16.8 16\\ 17.0 11\\ 17.2 5\\ 17.3 14\\ 17.5 9\\
17.7 18\\ 17.8 7\\ 18.0 12\\ 18.2 3\\ 18.3 10\\ 18.5 15\\ 18.7 6\\ 18.8 13\\ 19.0 9\\ 19.2 17\\ 19.3 4\\ 19.5 11\\
19.7 14\\ 19.8 7\\ 20.0 12\\ 20.2 19\\ 20.3 5\\ 20.5 10\\ 20.7 15\\ 20.8 8\\ 21.0 13\\ 21.2 6\\ 21.3 18\\ 21.5 9\\
21.7 11\\ 21.8 4\\ 22.0 14\\ 22.2 7\\ 22.3 17\\ 22.5 10\\ 22.7 3\\ 22.8 12\\ 23.0 6\\ 23.2 15\\ 23.3 9\\ 23.5 2\\
23.7 11\\ 23.8 5\\ 24.0 8\\ 24.2 1\\ 24.3 10\\ 24.5 4\\ 24.7 7\\ 24.8 2\\ 25.0 9\\ 25.2 3\\ 25.3 6\\ 25.5 1\\
25.7 8\\ 25.8 4\\ 26.0 10\\ 26.2 2\\ 26.3 6\\ 26.5 3\\ 26.7 9\\ 26.8 1\\ 27.0 5\\ 27.2 8\\ 27.3 2\\ 27.5 6\\
27.7 3\\ 27.8 10\\ 28.0 4\\ 28.2 1\\ 28.3 7\\ 28.5 3\\ 28.7 9\\ 28.8 5\\ 29.0 2\\ 29.2 8\\ 29.3 12\\ 29.5 6\\
29.7 15\\ 29.8 9\\ 30.0 18\\ 30.2 11\\ 30.3 22\\ 30.5 7\\ 30.7 16\\ 30.8 13\\ 31.0 20\\ 31.2 9\\ 31.3 14\\ 31.5 5\\
31.7 17\\ 31.8 10\\ 32.0 13\\ 32.2 6\\ 32.3 11\\ 32.5 3\\ 32.7 8\\ 32.8 14\\ 33.0 5\\ 33.2 10\\ 33.3 2\\ 33.5 7\\
33.7 12\\ 33.8 4\\ 34.0 9\\ 34.2 15\\ 34.3 6\\ 34.5 11\\ 34.7 3\\ 34.8 8\\ 35.0 13\\ 35.2 5\\
35.5 10\\ 35.7 4\\ 35.8 14\\ 36.0 7\\ 36.2 17\\ 36.3 2\\ 36.5 11\\ 36.7 6\\ 36.8 13\\ 37.0 3\\ 37.2 9\\ 37.3 15\\
37.5 5\\ 37.7 11\\ 37.8 1\\ 38.0 8\\ 38.2 12\\ 38.3 4\\ 38.5 9\\ 38.7 2\\ 38.8 6\\ 39.0 11\\ 39.2 3\\ 39.3 7\\
39.5 1\\ 39.7 5\\ 39.8 10\\ 40.0 3\\ 40.2 8\\ 40.3 1\\ 40.5 6\\ 40.7 4\\ 40.8 9\\ 41.0 2\\ 41.2 7\\ 41.3 1\\
41.5 5\\ 41.7 3\\ 41.8 8\\ 42.0 2\\ 42.2 6\\ 42.3 1\\ 42.5 4\\ 42.7 7\\ 42.8 2\\ 43.0 5\\ 43.2 1\\ 43.3 8\\
43.5 3\\ 43.7 6\\ 43.8 2\\ 44.0 9\\ 44.2 4\\ 44.3 1\\ 44.5 7\\ 44.7 3\\ 44.8 5\\ 45.0 1\\ 45.2 6\\ 45.3 3\\
45.5 8\\ 45.7 2\\ 45.8 4\\ 46.0 7\\ 46.2 1\\ 46.3 5\\ 46.5 3\\ 46.7 6\\ 46.8 2\\ 47.0 8\\ 47.2 4\\ 47.3 1\\
47.5 5\\ 47.7 3\\ 47.8 7\\ 48.0 2\\ 48.2 5\\ 48.3 1\\ 48.5 4\\ 48.7 3\\
-4.35 7\\ -4.05 15\\ -3.75 20\\ -3.45 10\\ -3.15 16\\ -2.85 5\\ -2.55 19\\ -2.25 10\\ -1.95 16\\ -1.65 24\\ -1.35 7\\ -1.05 20\\
-0.75 10\\ -0.45 17\\ -0.15 4\\ 0.15 11\\ 0.45 1\\ 0.75 8\\ 1.05 3\\ 1.35 12\\ 1.65 5\\ 1.95 1\\ 2.25 9\\ 2.55 4\\
2.85 0.5\\ 3.15 13\\ 3.45 6\\ 3.75 2\\ 4.05 14\\ 4.35 21\\ 4.65 9\\ 4.95 18\\ 5.25 12\\ 5.55 6\\ 5.85 14\\ 6.15 7\\
6.45 17\\ 6.75 11\\ 7.05 6\\ 7.35 15\\ 7.65 5\\ 7.95 11\\ 8.25 2\\ 8.55 14\\ 8.85 7\\ 9.15 4\\ 9.45 12\\ 9.75 15\\
10.05 7\\ 10.35 2\\ 10.65 13\\ 10.95 5\\ 11.25 9\\ 11.55 1\\ 11.85 11\\ 12.15 3\\ 12.45 7\\ 12.75 12\\ 13.05 5\\ 13.35 1\\
13.65 13\\ 13.95 16\\ 14.25 9\\ 14.55 20\\ 14.85 12\\ 15.15 6\\ 15.45 18\\ 15.75 11\\ 16.05 14\\ 16.35 7\\ 16.65 17\\ 16.95 9\\
17.25 13\\ 17.55 20\\ 17.85 11\\ 18.15 15\\ 18.45 8\\ 18.75 17\\ 19.05 12\\ 19.35 20\\ 19.65 6\\ 19.95 15\\ 20.25 9\\ 20.55 13\\
20.85 17\\ 21.15 10\\ 21.45 14\\ 21.75 7\\ 22.05 10\\ 22.35 13\\ 22.65 6\\ 22.95 16\\ 23.25 4\\ 23.55 13\\ 23.85 7\\ 24.15 4\\
24.45 8\\ 24.75 1\\ 25.05 5\\ 25.35 9\\ 25.65 3\\ 25.95 6\\ 26.25 8\\ 26.55 1\\ 26.85 5\\ 27.15 3\\ 27.45 9\\ 27.75 1\\
28.05 7\\ 28.35 5\\ 28.65 2\\ 28.95 10\\ 29.25 4\\ 29.55 10\\ 29.85 13\\ 30.15 16\\ 30.45 12\\ 30.75 20\\ 31.05 8\\ 31.35 17\\
31.65 12\\ 31.95 7\\ 32.25 15\\ 32.55 9\\ 32.85 4\\ 33.15 12\\ 33.45 9\\ 33.75 6\\ 34.05 13\\ 34.35 2\\ 34.65 9\\ 34.95 6\\
35.25 11\\ 35.55 7\\ 35.85 3\\ 36.15 12\\ 36.45 8\\ 36.75 15\\ 37.05 10\\ 37.35 6\\ 37.65 13\\ 37.95 4\\ 38.25 9\\ 38.55 6\\
38.85 11\\ 39.15 5\\ 39.45 9\\ 39.75 2\\ 40.05 6\\ 40.35 4\\ 40.65 2\\ 40.95 7\\ 41.25 4\\ 41.55 1\\ 41.85 5\\ 42.15 3\\
42.45 7\\ 42.75 4\\ 43.05 2\\ 43.35 5\\ 43.65 1\\ 43.95 6\\ 44.25 3\\ 44.55 5\\ 44.85 2\\ 45.15 4\\ 45.45 1\\ 45.75 6\\
46.05 3\\ 46.35 8\\ 46.65 1\\ 46.95 4\\ 47.25 6\\ 47.55 2\\ 47.85 4\\ 48.15 1\\ 48.45 6\\ 48.75 2\\
-0.6 358\\ -0.4 359\\ -0.2 357\\ 0.0 359\\ 0.2 358\\ 0.5 360\\ 0.8 358\\ 1.0 359\\
7.0 358\\ 7.2 356\\ 7.4 359\\ 7.6 357\\ 7.8 355\\ 8.0 358\\ 8.2 353\\ 8.4 356\\ 8.6 359\\ 8.43 352\\
11.1 358\\ 11.3 355\\ 11.5 359\\ 11.7 357\\ 11.9 354\\ 12.1 358\\ 12.3 356\\ 12.5 359\\ 12.7 357\\ 12.9 355\\
13.1 358\\ 13.3 356\\ 13.5 359\\ 13.7 357\\ 13.9 355\\ 14.1 358\\ 14.3 357\\ 17.6 359\\ 17.9 357\\ 18.2 358\\
18.8 358\\ 20.2 358\\ 20.4 356\\ 24.1 358\\ 24.3 355\\ 24.5 357\\ 24.8 359\\ 25.6 357\\ 25.9 359\\ 26.3 358\\
27.2 357\\ 27.4 354\\ 27.6 358\\ 28.1 358\\ 28.3 356\\ 29.3 359\\ 29.6 357\\ 34.3 357\\ 34.4 359\\
41.6 359\\ 41.8 357\\ 43.4 359\\ 44.0 358\\ 44.7 359\\ 45.3 358\\ 45.6 359\\ 45.9 357\\ 46.2 359\\ 46.5 358\\
46.8 357\\ 47.1 359\\ 47.4 358\\ 47.7 360\\ 48.0 358\\ 48.3 357\\ 48.6 359\\ 48.8 358\\};
% WW3 DPms (cyan)
\addplot[mplc, line width=6.5pt, line cap=round, line join=round, unbounded coords=jump, forget plot] table[row sep=\\]{
-4.5 14\\ -4.0 14\\ -3.5 15\\ -3.0 17\\ -2.5 18\\ nan nan\\
-3.6 51\\ -3.4 44\\ -3.2 38\\ -3.05 35\\ nan nan\\
-2.6 26\\ -2.3 20\\ -2.0 16\\ -1.5 13\\ -0.8 12\\ 0.0 12\\ 0.6 12\\ nan nan\\
0.7 27\\ 1.3 28\\ 2.0 29\\ 2.9 29\\ nan nan\\
1.6 8\\ 2.5 10\\ 3.3 11\\ 4.2 9\\ 4.9 9\\ 5.6 11\\ 6.4 12\\ 7.2 12\\ 8.0 13\\ 8.8 13\\ 9.4 14\\ nan nan\\
6.1 26\\ 6.4 27\\ nan nan\\
9.45 30\\ 10.1 29\\ nan nan\\
9.6 12\\ 10.3 13\\ 11.1 16\\ 11.9 17\\ 12.5 17\\ 13.1 16\\ 13.6 14\\ nan nan\\
13.9 10\\ 15.0 9\\ 16.2 11\\ 17.2 14\\ nan nan\\
17.35 10\\ 18.0 9\\ 18.8 9\\ 19.7 9\\ 20.9 9\\ 21.6 11\\ 22.3 13\\ 23.2 15\\ 23.9 16\\ nan nan\\
18.75 35\\ 19.0 30\\ nan nan\\
23.45 29\\ 23.9 26\\ 24.4 21\\ nan nan\\
25.2 12\\ 26.0 11\\ 26.9 10\\ nan nan\\
26.9 38\\ 27.4 42\\ nan nan\\
27.44 33\\ 28.0 31\\ 28.45 30\\ 29.1 29\\ 29.7 28\\ nan nan\\
30.0 12\\ 30.6 11\\ 31.3 10\\ 31.9 9\\ 32.4 12\\ 33.1 16\\ 33.9 19\\ 34.7 24\\ 35.2 21\\ 35.6 21\\ 36.2 24\\ 37.15 21\\ 38.1 23\\ 38.9 17\\ 39.5 19\\ 40.3 13\\ 41.0 10\\ 41.5 9\\ nan nan\\
34.9 37\\ 35.0 40\\ nan nan\\
35.8 49\\ 36.0 43\\ nan nan\\
41.6 17\\ 42.1 25\\ 42.6 28\\ 43.1 30\\ 43.9 33\\ 44.4 34\\ nan nan\\
43.5 12\\ 44.0 14\\ 44.6 16\\ nan nan\\
44.7 36\\ 45.4 39\\ 46.2 40\\ 46.5 40\\ nan nan\\
47.3 36\\ 47.7 35\\ 48.1 32\\ 48.7 33\\ nan nan\\
47.4 12\\ 47.9 10\\ 48.3 9\\};
% WW3 DPm (red)
\addplot[red, line width=6.5pt, line cap=round, line join=round, unbounded coords=jump, forget plot] table[row sep=\\]{
-4.5 22\\ -4.3 19\\ -4.0 24\\ -3.7 27\\ -3.4 29\\ -3.0 30\\ -2.6 30\\ -2.2 31\\ -2.05 35\\ -1.9 33\\ -1.6 30\\ -1.2 29\\ -0.8 30\\ -0.5 32\\ nan nan\\
-0.55 12\\ -0.3 16\\ 0.0 20\\ 0.3 24\\ nan nan\\
0.6 11\\ 0.9 16\\ 1.2 22\\ 1.5 26\\ 1.8 28\\ 2.1 25\\ 2.4 19\\ 2.6 14\\ 2.8 10\\ nan nan\\
2.55 44\\ 3.0 45\\ 3.5 46\\ 3.9 46\\ 4.2 44\\ nan nan\\
4.3 16\\ 4.6 22\\ 4.9 27\\ 5.3 30\\ 5.7 32\\ 6.1 31\\ 6.5 30\\ 6.9 29\\ 7.3 28\\ 7.7 27\\ 8.0 24\\ nan nan\\
8.1 41\\ 8.6 42\\ 9.2 42\\ 9.7 41\\ 10.2 38\\ 10.7 36\\ 11.2 34\\ 11.7 31\\ 12.0 28\\ nan nan\\
12.1 19\\ 12.5 15\\ 12.9 11\\ 13.2 7\\ 13.5 5\\ nan nan\\
13.4 34\\ 13.55 25\\ 13.7 17\\ nan nan\\
13.85 39\\ 14.5 40\\ 15.2 39\\ 15.7 37\\ 16.3 39\\ 16.9 42\\ 17.5 44\\ nan nan\\
17.8 40\\ 18.5 39\\ 19.2 38\\ 19.9 39\\ 20.6 40\\ 21.2 43\\ 21.6 45\\ nan nan\\
21.65 34\\ 22.2 37\\ 22.8 38\\ 23.4 36\\ 23.9 33\\ 24.3 32\\ 24.9 33\\ nan nan\\
24.95 20\\ 25.3 25\\ 25.8 30\\ 26.3 33\\ 27.0 36\\ 27.8 38\\ 28.6 41\\ 29.4 43\\ 30.2 45\\ 30.9 45\\ 31.9 43\\ nan nan\\
32.0 35\\ 32.8 35\\ 33.7 34\\ 34.2 28\\ 34.55 24\\ 35.0 27\\ 35.3 29\\ 35.7 37\\ 36.2 40\\ 36.75 42\\ nan nan\\
36.8 37\\ 37.3 33\\ 37.8 35\\ 38.4 35\\ 38.6 30\\ 39.0 28\\ nan nan\\
39.3 22\\ 39.7 21\\ 40.3 23\\ 40.9 24\\ 41.5 26\\ nan nan\\
41.65 14\\ 42.3 19\\ 43.1 24\\ 43.9 28\\ 44.6 29\\ 45.1 30\\ nan nan\\
45.45 11\\ 45.9 16\\ 46.5 19\\ 47.3 23\\ nan nan\\
47.3 35\\ 47.9 38\\ 48.5 42\\ 48.85 44\\};
\node[font=\fontsize{27}{32}\selectfont] at (axis cs:5.65,265.8) {A'};
\node[font=\fontsize{27}{32}\selectfont] at (axis cs:11.66,265.8) {B'};
\node[font=\fontsize{27}{32}\selectfont] at (axis cs:22.03,265.8) {C'};
\node[font=\fontsize{27}{32}\selectfont] at (axis cs:33.68,265.8) {D'};
\node[font=\fontsize{27}{32}\selectfont] at (axis cs:38.82,265.8) {E'};
\node[font=\fontsize{27}{32}\selectfont] at (axis cs:42.31,265.8) {F};
\end{axis}

\begin{axis}[base, at={(97pt,-802pt)}, anchor=south west, height=345.3pt,
  ymin=0.27, ymax=4.685,
  axis y line*=right, axis x line=none,
  ytick={0.5,1.0,1.5,2.0,2.5,3.0,3.5,4.0,4.5},
  yticklabel style={/pgf/number format/.cd,fixed,fixed zerofill,precision=1},
  ylabel={Wave height offreef (m)},
  ylabel style={font=\fontsize{20.5}{24}\selectfont, at={(axis description cs:1.0528,0.5)}, anchor=center},
  legend style={at={(axis description cs:0.994,0.446)}, anchor=south east},
]
\addplot[blue, line width=2.4pt] table[row sep=\\]{
-4.26 1.481\\ -4.07 1.309\\ -3.68 1.118\\ -3.37 1.097\\ -3.05 1.118\\ -2.82 1.075\\ -2.51 0.999\\ -2.19 1.033\\ -1.96 1.182\\ -1.72 1.258\\
-1.49 1.139\\ -1.29 1.054\\ -1.02 1.182\\ -0.70 1.225\\ -0.39 1.216\\ -0.16 1.258\\ 0.23 1.297\\ 0.47 1.246\\ 0.86 1.075\\ 1.25 1.063\\
1.64 0.990\\ 2.03 0.926\\ 2.35 0.841\\ 2.66 0.756\\ 3.05 0.701\\ 3.36 0.726\\ 3.68 0.730\\ 3.99 0.777\\ 4.30 0.969\\ 4.62 1.309\\
4.85 1.693\\ 5.08 1.949\\ 5.32 2.043\\ 5.55 1.907\\ 5.79 1.821\\ 6.10 1.801\\ 6.41 1.565\\ 6.73 1.309\\ 7.04 1.097\\ 7.51 0.969\\
7.82 0.841\\ 8.14 0.670\\ 8.61 0.542\\ 9.00 0.478\\ 9.22 0.465\\ 9.61 0.500\\ 9.92 0.500\\ 10.15 0.969\\ 10.39 1.437\\ 10.62 1.642\\
10.94 1.609\\ 11.33 1.417\\ 11.72 1.600\\ 12.03 1.437\\ 12.42 1.331\\ 12.74 1.225\\ 13.05 1.066\\ 13.36 1.258\\ 13.60 1.318\\ 13.91 1.161\\
14.23 1.054\\ 14.62 0.999\\ 15.00 0.948\\ 15.47 0.935\\ 15.94 0.884\\ 16.41 0.832\\ 16.88 0.756\\ 17.20 0.841\\ 17.51 0.957\\ 17.82 0.957\\
18.29 1.139\\ 18.76 1.366\\ 19.15 1.267\\ 19.54 1.097\\ 19.86 0.960\\ 20.33 0.893\\ 20.72 0.841\\ 21.11 0.948\\ 21.42 1.075\\ 21.74 1.267\\
22.05 1.651\\ 22.39 1.898\\ 22.60 1.779\\ 22.83 1.587\\ 23.22 1.514\\ 23.54 1.373\\ 23.92 1.395\\ 24.39 1.373\\ 24.86 1.488\\ 25.26 1.373\\
25.65 1.309\\ 25.96 1.309\\ 26.35 1.353\\ 26.82 1.309\\ 27.14 1.182\\ 27.53 1.088\\ 27.92 1.046\\ 28.31 0.926\\ 28.78 0.948\\ 29.09 0.841\\
29.40 0.714\\ 29.87 0.628\\ 30.26 0.586\\ 30.58 0.650\\ 30.97 0.798\\ 31.44 0.948\\ 31.83 1.033\\ 32.22 1.075\\ 32.54 1.182\\ 32.92 1.353\\
33.39 1.353\\ 33.78 1.437\\ 34.25 1.545\\ 34.57 1.558\\ 34.88 1.437\\ 35.19 1.309\\ 35.59 1.246\\ 35.90 1.182\\ 36.13 1.139\\ 36.37 1.395\\
36.65 1.651\\ 36.92 1.565\\ 37.31 1.437\\ 37.70 1.446\\ 38.09 1.459\\ 38.40 1.523\\ 38.64 1.949\\ 38.90 2.588\\ 39.11 2.623\\ 39.31 2.440\\
39.50 2.632\\ 39.73 3.313\\ 39.97 3.867\\ 40.20 3.974\\ 40.44 3.783\\ 40.67 3.355\\ 40.83 3.015\\ 41.03 2.824\\ 41.22 2.994\\ 41.46 3.109\\
41.69 3.036\\ 41.92 3.739\\ 42.16 4.379\\ 42.31 4.486\\ 42.50 4.230\\ 42.70 3.867\\ 42.94 3.441\\ 43.17 3.015\\ 43.41 2.716\\ 43.72 2.248\\
44.11 1.864\\ 44.51 1.545\\ 44.74 1.309\\ 44.98 1.139\\ 45.29 1.139\\ 45.68 1.203\\ 46.07 1.373\\ 46.46 1.404\\ 46.85 1.344\\ 47.16 1.395\\
47.48 1.331\\ 47.72 1.417\\ 47.92 1.468\\};
\addlegendentry{offreef \textit{H}\textsubscript{\textit{s}}}
\end{axis}
\end{tikzpicture}
\end{document}
